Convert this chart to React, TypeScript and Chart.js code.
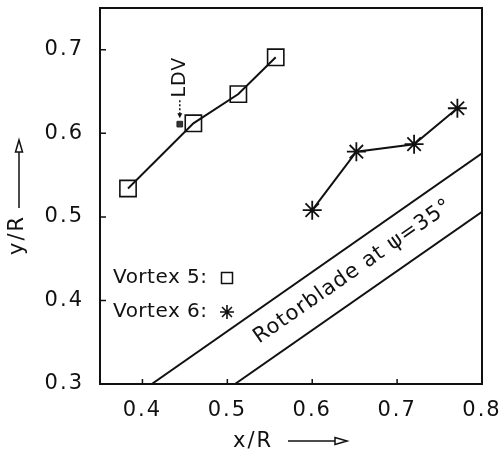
import React, { useEffect, useRef } from 'react';
import { Chart, registerables } from 'chart.js';

Chart.register(...registerables);

const INK = '#111111';
const FONT = '"DejaVu Sans", sans-serif';

// Vortex 5 core positions (squares)
const vortex5X = [0.383, 0.46, 0.513, 0.557];
const vortex5Y = [0.534, 0.612, 0.647, 0.691];

// Vortex 6 core positions (asterisks)
const vortex6X = [0.6, 0.652, 0.72, 0.771];
const vortex6Y = [0.508, 0.578, 0.587, 0.63];

// LDV measuring point
const ldvX = [0.444];
const ldvY = [0.611];

// Rotor blade outline at psi = 35 deg
const bladeUpperX = [0.411, 0.8];
const bladeUpperY = [0.3, 0.576];
const bladeLowerX = [0.509, 0.8];
const bladeLowerY = [0.3, 0.506];

// Axis ranges and ticks
const xRange = [0.35, 0.8];
const yRange = [0.3, 0.75];
const xTickValues = [0.4, 0.5, 0.6, 0.7, 0.8];
const yTickValues = [0.3, 0.4, 0.5, 0.6, 0.7];

const legendLabels = ['Vortex 5:', 'Vortex 6:'];
const bladeLabel = 'Rotorblade at \u03C8=35\u00B0';
const ldvLabel = 'LDV';
const xTitle = 'x/R';
const yTitle = 'y/R';

const toPoints = (xs: number[], ys: number[]) => xs.map((x, i) => ({ x, y: ys[i] }));

function drawStar(ctx: CanvasRenderingContext2D, x: number, y: number, r: number) {
  ctx.beginPath();
  for (let k = 0; k < 4; k++) {
    const ang = (k * Math.PI) / 4;
    ctx.moveTo(x - r * Math.cos(ang), y - r * Math.sin(ang));
    ctx.lineTo(x + r * Math.cos(ang), y + r * Math.sin(ang));
  }
  ctx.stroke();
}

// Line with a narrow open triangular head at (x2, y2)
function drawArrow(ctx: CanvasRenderingContext2D, x1: number, y1: number, x2: number, y2: number) {
  const len = Math.hypot(x2 - x1, y2 - y1);
  const ux = (x2 - x1) / len;
  const uy = (y2 - y1) / len;
  const headLen = 12;
  const half = 3.5;
  const bx = x2 - ux * headLen;
  const by = y2 - uy * headLen;
  ctx.beginPath();
  ctx.moveTo(x1, y1);
  ctx.lineTo(bx, by);
  ctx.stroke();
  ctx.beginPath();
  ctx.moveTo(x2, y2);
  ctx.lineTo(bx - uy * half, by + ux * half);
  ctx.lineTo(bx + uy * half, by - ux * half);
  ctx.closePath();
  ctx.stroke();
}

// Axis padding is governed by layout.padding only
const zeroPadding = (s: any) => {
  s.paddingTop = 0;
  s.paddingBottom = 0;
  s.paddingLeft = 0;
  s.paddingRight = 0;
};

const figureMarks = {
  id: 'figureMarks',
  beforeDraw(chart: any) {
    chart.ctx.letterSpacing = '2px';
  },
  afterDraw(chart: any) {
    const { ctx, chartArea: a, scales } = chart;
    const xs = scales.x;
    const ys = scales.y;
    ctx.save();
    ctx.strokeStyle = INK;
    ctx.fillStyle = INK;

    // frame
    ctx.lineWidth = 2;
    ctx.strokeRect(a.left, a.top, a.right - a.left, a.bottom - a.top);

    // inward tick marks
    ctx.lineWidth = 1.5;
    ctx.beginPath();
    yTickValues.forEach((v) => {
      if (v <= yRange[0] || v >= yRange[1]) return;
      const py = ys.getPixelForValue(v);
      ctx.moveTo(a.left, py);
      ctx.lineTo(a.left + 6, py);
    });
    xTickValues.forEach((v) => {
      if (v <= xRange[0] || v >= xRange[1]) return;
      const px = xs.getPixelForValue(v);
      ctx.moveTo(px, a.bottom);
      ctx.lineTo(px, a.bottom - 5);
    });
    ctx.stroke();

    // legend
    ctx.font = `20px ${FONT}`;
    ctx.letterSpacing = '0.5px';
    ctx.textAlign = 'left';
    ctx.textBaseline = 'middle';
    const lx = a.left + 13;
    const ly1 = a.top + 270;
    const ly2 = a.top + 304;
    ctx.fillText(legendLabels[0], lx, ly1);
    ctx.fillText(legendLabels[1], lx, ly2);
    ctx.lineWidth = 1.5;
    ctx.strokeRect(a.left + 121.5, ly1 - 5.5, 11, 11);
    ctx.lineWidth = 1.6;
    drawStar(ctx, a.left + 127, ly2, 7);

    // LDV label with dotted pointer
    const ldvPx = xs.getPixelForValue(ldvX[0]);
    const ldvPy = ys.getPixelForValue(ldvY[0]);
    ctx.save();
    ctx.translate(ldvPx, ldvPy - 47);
    ctx.rotate(-Math.PI / 2);
    ctx.font = `19px ${FONT}`;
    ctx.letterSpacing = '1px';
    ctx.textAlign = 'center';
    ctx.textBaseline = 'middle';
    ctx.fillText(ldvLabel, 0, 0);
    ctx.restore();
    ctx.lineWidth = 1.5;
    ctx.setLineDash([2, 2]);
    ctx.beginPath();
    ctx.moveTo(ldvPx, ldvPy - 24);
    ctx.lineTo(ldvPx, ldvPy - 10);
    ctx.stroke();
    ctx.setLineDash([]);
    ctx.beginPath();
    ctx.moveTo(ldvPx, ldvPy - 6);
    ctx.lineTo(ldvPx - 2.5, ldvPy - 11);
    ctx.lineTo(ldvPx + 2.5, ldvPy - 11);
    ctx.closePath();
    ctx.fill();

    // rotor blade caption, between the two blade edges
    const bx0 = xs.getPixelForValue(bladeUpperX[0]);
    const by0 = ys.getPixelForValue(bladeUpperY[0]);
    const bx1 = xs.getPixelForValue(bladeUpperX[1]);
    const by1 = ys.getPixelForValue(bladeUpperY[1]);
    const angle = Math.atan2(by1 - by0, bx1 - bx0);
    const xm = 0.648;
    const yUp = bladeUpperY[0] + ((xm - bladeUpperX[0]) * (bladeUpperY[1] - bladeUpperY[0])) / (bladeUpperX[1] - bladeUpperX[0]);
    const yLo = bladeLowerY[0] + ((xm - bladeLowerX[0]) * (bladeLowerY[1] - bladeLowerY[0])) / (bladeLowerX[1] - bladeLowerX[0]);
    ctx.save();
    ctx.translate(xs.getPixelForValue(xm), ys.getPixelForValue((yUp + yLo) / 2) - 1);
    ctx.rotate(angle);
    ctx.font = `21px ${FONT}`;
    ctx.letterSpacing = '1px';
    ctx.textAlign = 'center';
    ctx.textBaseline = 'middle';
    ctx.fillText(bladeLabel, 0, 0);
    ctx.restore();

    // axis titles with arrows
    ctx.font = `21px ${FONT}`;
    ctx.letterSpacing = '2px';
    ctx.textBaseline = 'middle';
    ctx.lineWidth = 1.5;
    const cx = (a.left + a.right) / 2;
    const tY = 442;
    ctx.textAlign = 'center';
    ctx.fillText(xTitle, cx - 38, tY);
    drawArrow(ctx, cx - 3, tY - 1, cx + 56, tY - 1);

    const cy = (a.top + a.bottom) / 2;
    ctx.save();
    ctx.translate(18, cy + 39);
    ctx.rotate(-Math.PI / 2);
    ctx.fillText(yTitle, 0, 0);
    ctx.restore();
    drawArrow(ctx, 19, cy + 12, 19, cy - 56);

    ctx.restore();
  },
};

export default function App() {
  const canvasRef = useRef<HTMLCanvasElement | null>(null);

  useEffect(() => {
    if (!canvasRef.current) return;
    const chart = new Chart(canvasRef.current, {
      type: 'scatter',
      data: {
        datasets: [
          {
            label: 'Vortex 5',
            data: toPoints(vortex5X, vortex5Y),
            showLine: true,
            borderColor: INK,
            borderWidth: 2,
            pointStyle: 'rect',
            pointRadius: 11.5,
            pointBorderWidth: 1.6,
            pointBorderColor: INK,
            pointBackgroundColor: 'rgba(0,0,0,0)',
          },
          {
            label: 'Vortex 6',
            data: toPoints(vortex6X, vortex6Y),
            showLine: true,
            borderColor: INK,
            borderWidth: 2,
            pointStyle: 'star',
            pointRadius: 9.5,
            pointBorderWidth: 1.8,
            pointBorderColor: INK,
            pointBackgroundColor: 'rgba(0,0,0,0)',
          },
          {
            label: 'LDV',
            data: toPoints(ldvX, ldvY),
            showLine: false,
            pointStyle: 'rect',
            pointRadius: 4,
            pointBorderWidth: 1,
            pointBorderColor: '#222',
            pointBackgroundColor: '#333',
          },
          {
            label: 'Rotorblade upper edge',
            data: toPoints(bladeUpperX, bladeUpperY),
            showLine: true,
            borderColor: INK,
            borderWidth: 2,
            pointRadius: 0,
          },
          {
            label: 'Rotorblade lower edge',
            data: toPoints(bladeLowerX, bladeLowerY),
            showLine: true,
            borderColor: INK,
            borderWidth: 2,
            pointRadius: 0,
          },
        ],
      },
      options: {
        animation: false,
        responsive: false,
        devicePixelRatio: 1,
        events: [],
        layout: { autoPadding: false, padding: { top: 8, right: 20, left: 0, bottom: 0 } },
        plugins: { legend: { display: false }, tooltip: { enabled: false } },
        scales: {
          x: {
            type: 'linear',
            min: xRange[0],
            max: xRange[1],
            afterBuildTicks: (s: any) => {
              s.ticks = xTickValues.map((v) => ({ value: v }));
            },
            afterFit: (s: any) => {
              s.height = 73;
              zeroPadding(s);
            },
            grid: { display: false, drawTicks: false },
            border: { display: false },
            ticks: {
              font: { family: FONT, size: 21, lineHeight: 0.6 },
              color: INK,
              padding: 20,
              maxRotation: 0,
              autoSkip: false,
              callback: (v: any) => Number(v).toFixed(1),
            },
          },
          y: {
            type: 'linear',
            min: yRange[0],
            max: yRange[1],
            afterBuildTicks: (s: any) => {
              s.ticks = yTickValues.map((v) => ({ value: v }));
            },
            afterFit: (s: any) => {
              s.width = 100;
              zeroPadding(s);
            },
            grid: { display: false, drawTicks: false },
            border: { display: false },
            ticks: {
              font: { family: FONT, size: 21, lineHeight: 0.6 },
              color: INK,
              padding: 16,
              autoSkip: false,
              callback: (v: any) => Number(v).toFixed(1),
            },
          },
        },
      },
      plugins: [figureMarks],
    } as any);
    return () => chart.destroy();
  }, []);

  return (
    <div style={{ position: 'absolute', left: 0, top: 0, width: 502, height: 457, background: '#fff' }}>
      <canvas ref={canvasRef} width={502} height={457} />
    </div>
  );
}
